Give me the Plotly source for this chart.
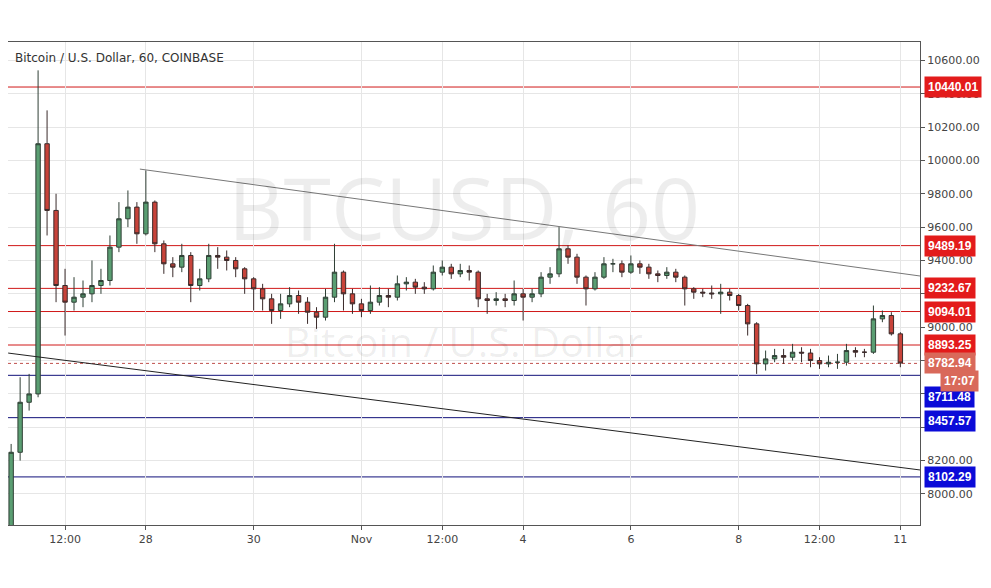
import pandas as pd
import plotly.graph_objects as go

# 4-hour candles
start = "2019-10-25 12:00"
closes = [8250, 8550, 8600, 10100, 9700, 9250, 9150, 9180, 9200, 9250,
          9280, 9480, 9650, 9720, 9560, 9750, 9500, 9380, 9360, 9430,
          9250, 9290, 9430, 9420, 9400, 9350, 9290, 9230, 9170, 9100,
          9140, 9190, 9150, 9090, 9060, 9180, 9330, 9200, 9140, 9100,
          9150, 9190, 9180, 9260, 9270, 9240, 9230, 9330, 9360, 9320,
          9340, 9330, 9170, 9160, 9170, 9160, 9200, 9180, 9200, 9300,
          9320, 9470, 9420, 9300, 9230, 9300, 9380, 9380, 9330, 9380,
          9360, 9320, 9310, 9330, 9300, 9230, 9210, 9205, 9200, 9210,
          9190, 9130, 9020, 8780, 8810, 8830, 8820, 8850, 8845, 8800,
          8780, 8790, 8790, 8860, 8850, 8850, 9050, 9070, 8960, 8785]
highs = [8300, 8700, 8720, 10540, 10300, 9800, 9350, 9300, 9280, 9400,
         9350, 9550, 9750, 9820, 9750, 9940, 9760, 9520, 9420, 9500,
         9450, 9350, 9500, 9480, 9460, 9420, 9360, 9300, 9260, 9200,
         9200, 9240, 9220, 9180, 9120, 9230, 9500, 9340, 9230, 9170,
         9250, 9240, 9230, 9310, 9300, 9290, 9270, 9370, 9400, 9380,
         9380, 9370, 9340, 9200, 9210, 9200, 9280, 9230, 9230, 9330,
         9360, 9600, 9490, 9440, 9310, 9330, 9420, 9410, 9400, 9430,
         9400, 9380, 9340, 9360, 9350, 9310, 9240, 9230, 9250, 9260,
         9230, 9200, 9140, 9030, 8860, 8870, 8870, 8900, 8880, 8870,
         8820, 8830, 8840, 8900, 8880, 8870, 9130, 9100, 9090, 8970]
lows = [7300, 8200, 8500, 8580, 9550, 9150, 8950, 9100, 9120, 9150,
        9200, 9250, 9450, 9600, 9500, 9550, 9450, 9320, 9300, 9330,
        9150, 9220, 9270, 9350, 9340, 9300, 9200, 9100, 9100, 9020,
        9050, 9120, 9080, 9020, 8990, 9040, 9150, 9100, 9080, 9060,
        9080, 9130, 9120, 9160, 9220, 9200, 9200, 9220, 9310, 9290,
        9300, 9280, 9120, 9080, 9130, 9120, 9130, 9040, 9150, 9180,
        9260, 9300, 9380, 9260, 9130, 9220, 9290, 9330, 9300, 9320,
        9320, 9290, 9270, 9290, 9270, 9130, 9170, 9180, 9170, 9080,
        9160, 9100, 8950, 8720, 8740, 8790, 8780, 8800, 8790, 8760,
        8750, 8760, 8750, 8770, 8820, 8820, 8840, 9030, 8950, 8760]
opens = [7450] + closes[:-1]
times = pd.date_range(start, periods=len(closes), freq="4h")

red_levels = [10440.01, 9489.19, 9232.67, 9094.01, 8893.25]
blue_levels = [8711.48, 8457.57, 8102.29]
last_price = 8782.94
upper_trend = (["2019-10-27 21:20", "2019-11-11 08:45"], [9948, 9307])
lower_trend = (["2019-10-25 10:40", "2019-11-11 08:45"], [8845, 8144])

tick_dates = ["2019-10-26 12:00", "2019-10-28", "2019-10-30", "2019-11-01", "2019-11-02 12:00",
              "2019-11-04", "2019-11-06", "2019-11-08", "2019-11-09 12:00", "2019-11-11"]
tick_text = ["12:00", "28", "30", "Nov", "12:00", "4", "6", "8", "12:00", "11"]

fig = go.Figure()
fig.add_trace(go.Candlestick(
    x=times, open=opens, high=highs, low=lows, close=closes,
    increasing=dict(fillcolor="#5a9e72", line=dict(color="#2f3f35", width=1)),
    decreasing=dict(fillcolor="#c8433a", line=dict(color="#3a2a2a", width=1)),
    whiskerwidth=0, showlegend=False, hoverinfo="skip"))

fig.add_trace(go.Scatter(x=upper_trend[0], y=upper_trend[1], mode="lines",
                         line=dict(color="#777", width=1), showlegend=False))
fig.add_trace(go.Scatter(x=lower_trend[0], y=lower_trend[1], mode="lines",
                         line=dict(color="#222", width=1), showlegend=False))


def level_line(y, color, dash="solid"):
    fig.add_shape(type="line", xref="paper", x0=0, x1=1, yref="y", y0=y, y1=y,
                  line=dict(color=color, width=1, dash=dash), layer="below")


def price_tag(y, text, bg):
    fig.add_annotation(x=1.004, xref="paper", y=y, yref="y", text=text,
                       xanchor="left", showarrow=False, bgcolor=bg, borderpad=3,
                       font=dict(color="white", size=12, family="Liberation Sans"))


for lv in red_levels:
    level_line(lv, "#d01818")
    price_tag(lv, f"<b>{lv:.2f}</b>", "#e31b1b")
for lv in blue_levels:
    level_line(lv, "#10107a")
tag_pos = {8711.48: 8581, 8457.57: 8440, 8102.29: 8102.29}
for lv in blue_levels:
    price_tag(tag_pos[lv], f"<b>{lv:.2f}</b>", "#0b0bd8")
level_line(last_price, "#c0504d", "dot")
price_tag(last_price, f"<b>{last_price:.2f}</b>", "#d9695a")
fig.add_annotation(x=1.065, xref="paper", y=8677, yref="y", text="<b>17:07</b>",
                   xanchor="right", showarrow=False, bgcolor="#d9695a", borderpad=3,
                   font=dict(color="white", size=12, family="Liberation Sans"))

# watermark
fig.add_annotation(x=0.5, y=0.66, xref="paper", yref="paper", text="BTCUSD, 60", showarrow=False,
                   font=dict(size=86, color="rgba(0,0,0,0.07)", family="Open Sans"))
fig.add_annotation(x=0.5, y=0.38, xref="paper", yref="paper", text="Bitcoin / U.S. Dollar", showarrow=False,
                   font=dict(size=40, color="rgba(0,0,0,0.07)", family="Open Sans"))
fig.add_annotation(x=0.006, y=0.985, xref="paper", yref="paper", text="Bitcoin / U.S. Dollar, 60, COINBASE",
                   showarrow=False, xanchor="left", yanchor="top",
                   font=dict(size=12, color="#333", family="DejaVu Sans"))

fig.update_layout(
    width=983, height=580, margin=dict(l=0, r=71, t=34, b=63, autoexpand=False),
    paper_bgcolor="white", plot_bgcolor="white",
    xaxis=dict(range=["2019-10-25 10:36", "2019-11-11 08:45"], rangeslider=dict(visible=False),
               tickvals=tick_dates, ticktext=tick_text, showgrid=True, gridcolor="#e6e6e6",
               tickfont=dict(size=11, color="#444", family="DejaVu Sans"), automargin=False,
               showline=True, linecolor="#555", mirror=True, ticks="outside", ticklen=4, tickcolor="#555"),
    yaxis=dict(range=[7814, 10710], side="right", dtick=200, tickformat=".2f",
               showgrid=True, gridcolor="#e6e6e6", automargin=False,
               tickfont=dict(size=11, color="#444", family="DejaVu Sans"),
               showline=True, linecolor="#555", mirror=True, ticks="outside", ticklen=4, tickcolor="#555"),
)
fig.write_html("out.html")
